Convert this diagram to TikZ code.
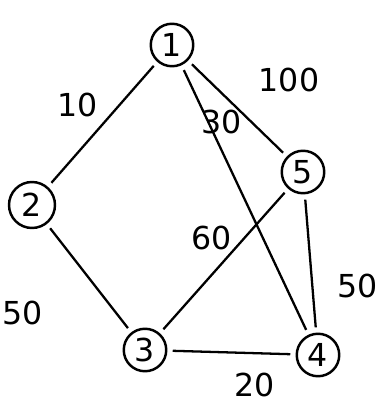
\documentclass[tikz,border=0pt]{standalone}
\usepackage{fontspec}
\setmainfont{DejaVu Sans}
\begin{document}
\begin{tikzpicture}[
        every node/.style={font=\fontsize{18}{20}\selectfont},
        vertex/.style={circle, draw, line width=1.4pt, fill=white,
            minimum size=0.85cm, inner sep=0pt},
        edge/.style={line width=1.3pt, shorten >=3pt, shorten <=3pt},
        weight/.style={inner sep=1pt}
      ]
      \useasboundingbox (0, 0) rectangle (7.78, 8.28);
      % vertices
      \node[vertex] (v1) at (3.44, 7.38) {1};
      \node[vertex, minimum height=0.92cm] (v2) at (0.64, 4.18) {2};
      \node[vertex] (v3) at (2.90, 1.28) {3};
      \node[vertex] (v4) at (6.36, 1.18) {4};
      \node[vertex] (v5) at (6.06, 4.84) {5};
      % edges
      \draw[edge] (v1) -- (v2);
      \draw[edge] (v1) -- (v4);
      \draw[edge] (v1) -- (v5);
      \draw[edge] (v2) -- (v3);
      \draw[edge] (v3) -- (v5);
      \draw[edge] (v5) -- (v4);
      \draw[edge] (v3) -- (v4);
      % weights
      \node[weight] (w12) at (1.56, 6.18) {10};
      \node[weight] (w14) at (4.44, 5.84) {30};
      \node[weight] (w15) at (5.78, 6.68) {100};
      \node[weight] (w23) at (0.46, 2.02) {50};
      \node[weight] (w35) at (4.24, 3.52) {60};
      \node[weight] (w54) at (7.16, 2.56) {50};
      \node[weight] (w34) at (5.10, 0.58) {20};
    \end{tikzpicture}
\end{document}
